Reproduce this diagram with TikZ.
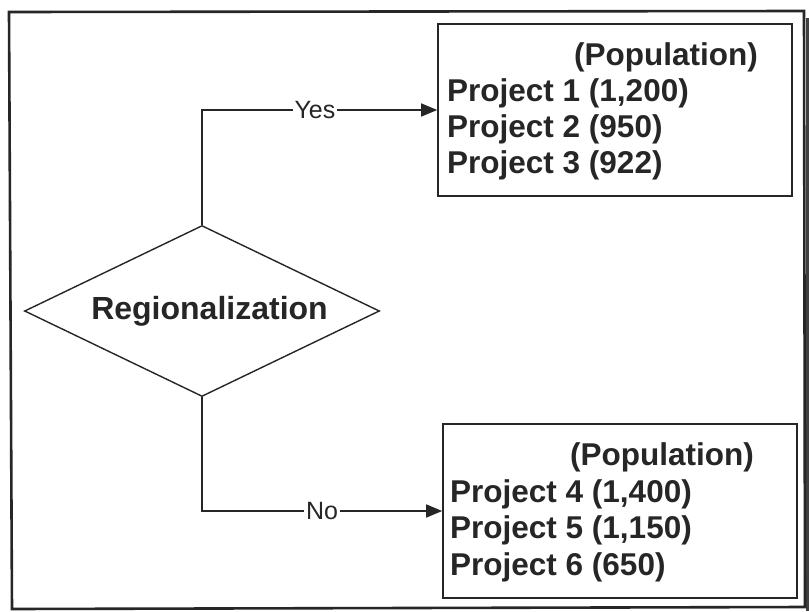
\documentclass[tikz,border=0pt]{standalone}
\usepackage{fontspec}
\setmainfont{Liberation Sans}
\usetikzlibrary{shapes.geometric,arrows.meta}
\definecolor{ink}{HTML}{262626}
\tikzset{
  every picture/.style={x=1pt,y=-1pt},
  frame/.style={draw=ink,line width=2.6pt},
  box/.style={draw=ink,line width=1.6pt,rectangle,inner sep=0pt},
  decision/.style={draw=ink,line width=1.4pt,diamond,aspect=2.08,inner sep=0pt,
     minimum width=355pt,minimum height=171pt,
     font=\fontsize{32}{36}\selectfont\bfseries,text=ink},
  entry/.style={inner sep=0pt,font=\fontsize{31.5}{36}\selectfont\bfseries,text=ink},
  conn/.style={draw=ink,line width=1.5pt,-{Triangle[length=16pt,width=13pt]}},
  lbl/.style={fill=white,inner sep=2pt,font=\fontsize{25}{29}\selectfont,text=ink},
}
\begin{document}
\begin{tikzpicture}
\useasboundingbox (0,0) rectangle (809,611);
\fill[white] (0,0) rectangle (809,611);
% scan edge band
\fill[black!75] (805.5,18) rectangle (809,611);
\draw[frame] (9,12) -- (804,11) -- (805,607) -- (12,609) -- cycle;

\node[decision] (dia) at (202,311) {\hspace*{15pt}Regionalization};

\node[box,minimum width=354pt,minimum height=172pt] (boxA) at (615,110) {};
\node[box,minimum width=354pt,minimum height=174pt] (boxB) at (620,511) {};

% top box text
\node[entry,anchor=base east] (popA) at (758,65) {(Population)};
\node[entry,anchor=base west] (p1) at (447,101) {Project 1 (1,200)};
\node[entry,anchor=base west] (p2) at (447,137) {Project 2 (950)};
\node[entry,anchor=base west] (p3) at (447,173) {Project 3 (922)};

% bottom box text
\node[entry,anchor=base east] (popB) at (754,465) {(Population)};
\node[entry,anchor=base west] (p4) at (450,502) {Project 4 (1,400)};
\node[entry,anchor=base west] (p5) at (450,538) {Project 5 (1,150)};
\node[entry,anchor=base west] (p6) at (450,575) {Project 6 (650)};

\draw[conn] (dia.north) |- node[lbl,pos=0.74] (yes) {Yes} (boxA.west);
\draw[conn] (dia.south) |- node[lbl,pos=0.75] (no) {No} (boxB.west);
\end{tikzpicture}
\end{document}
